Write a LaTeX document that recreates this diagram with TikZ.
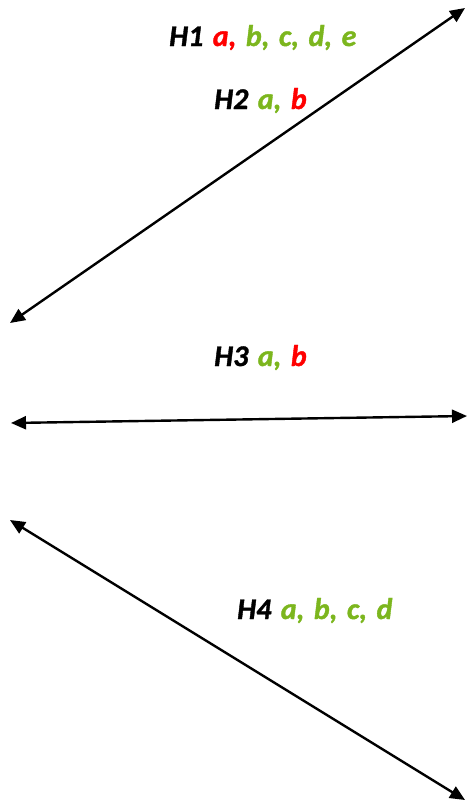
\documentclass[tikz,border=0pt]{standalone}
\usepackage{fontspec}
\setmainfont{Carlito}
\newfontfamily\lblfam{Carlito}[BoldItalicFeatures={FakeBold=1.2}]
\usetikzlibrary{arrows.meta}
\definecolor{lblred}{RGB}{255,0,0}
\definecolor{lblgreen}{RGB}{124,182,30}
\newcommand{\lblfont}{\lblfam\fontsize{30}{34}\selectfont\bfseries\itshape\spaceskip=9.5pt\relax}
\tikzset{
  dbl/.style={line width=2.4pt,{Triangle[length=15pt,width=13pt]}-{Triangle[length=15pt,width=13pt]}},
  lbl/.style={anchor=base west,inner sep=0pt,font=\lblfont}
}
\newcommand{\rd}[1]{\textcolor{lblred}{#1}}
\newcommand{\gn}[1]{\textcolor{lblgreen}{#1}}
\begin{document}
\begin{tikzpicture}[x=1pt,y=-1pt]
\useasboundingbox (0,0) rectangle (467,803);
\coordinate (a1) at (10,323);
\coordinate (a2) at (465,8);
\coordinate (b1) at (11,423);
\coordinate (b2) at (467,416);
\coordinate (c1) at (10,520);
\coordinate (c2) at (465,800);
\draw[dbl] (a1) -- (a2);
\draw[dbl] (b1) -- (b2);
\draw[dbl] (c1) -- (c2);
\node[lbl] (h1) at (169,46) {H1 \rd{a,} \gn{b, c, d, e}};
\node[lbl] (h2) at (214,109) {H2 \gn{a,} \rd{b}};
\node[lbl] (h3) at (214,366) {H3 \gn{a,} \rd{b}};
\node[lbl] (h4) at (237,619) {H4 \gn{a, b, c, d}};
\end{tikzpicture}
\end{document}
